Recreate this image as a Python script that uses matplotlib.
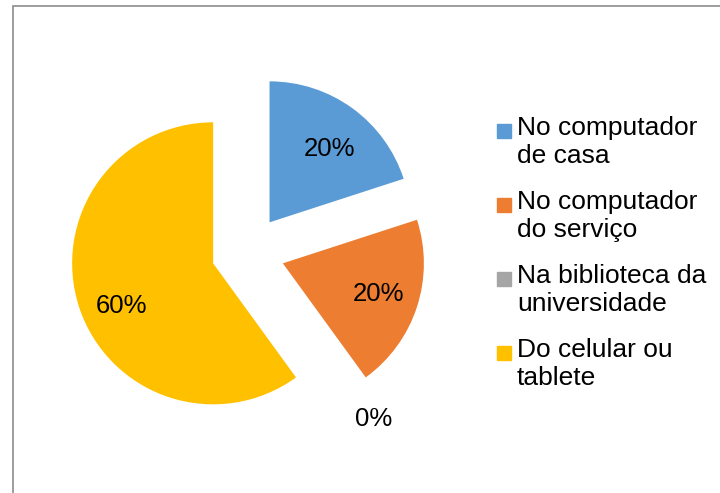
import numpy as np
import matplotlib.pyplot as plt
from matplotlib.patches import Rectangle

plt.rcParams['font.family'] = ['Liberation Sans', 'DejaVu Sans']

labels = ['No computador\nde casa', 'No computador\ndo serviço',
          'Na biblioteca da\nuniversidade', 'Do celular ou\ntablete']
values = [20, 20, 0, 60]
colors = ['#5B9BD5', '#ED7D31', '#A5A5A5', '#FFC000']

W, H = 720, 493
cx, cy, rad = 248, 252, 141  # pie centre / radius in pixels

fig = plt.figure(figsize=(W / 100, H / 100), dpi=100)
ax = fig.add_axes([0, 0, 1, 1])

wedges, texts, autotexts = ax.pie(
    values, colors=colors, startangle=90, counterclock=False,
    explode=[0.26] * len(values), radius=1, autopct='%1.0f%%',
    pctdistance=0.7, textprops={'fontsize': 18.5, 'color': 'black'},
    wedgeprops={'linewidth': 0})

# the 0% label sits outside its (empty) slice
ang = np.deg2rad(90 - 360 * sum(values[:2]) / sum(values))
autotexts[2].set_position((1.49 * np.cos(ang), 1.46 * np.sin(ang)))

# small nudges to match the label placement of the original
for t, dy in zip(autotexts, [-7, 0, 0, -12]):
    x, y = t.get_position()
    t.set_position((x + 2 / rad, y + dy / rad))

ax.set_aspect('auto')
ax.set_xlim(-cx / rad, (W - cx) / rad)
ax.set_ylim(-(H - cy) / rad, cy / rad)
ax.axis('off')

# chart border
fig.patches.append(Rectangle((13 / W, -0.1), 1.2, (H - 6) / H + 0.1,
                             transform=fig.transFigure, fill=False,
                             edgecolor='#8C8C8C', linewidth=1.2))

# legend
y0 = 116
for i, (lab, col) in enumerate(zip(labels, colors)):
    y = y0 + i * 74
    fig.patches.append(Rectangle((497 / W, 1 - (y + 22) / H), 14 / W, 14 / H,
                                 transform=fig.transFigure, color=col))
    fig.text(517 / W, 1 - y / H, lab, fontsize=19, va='top', ha='left',
             linespacing=1.22, color='black')

fig.savefig('out.png', dpi=100)
